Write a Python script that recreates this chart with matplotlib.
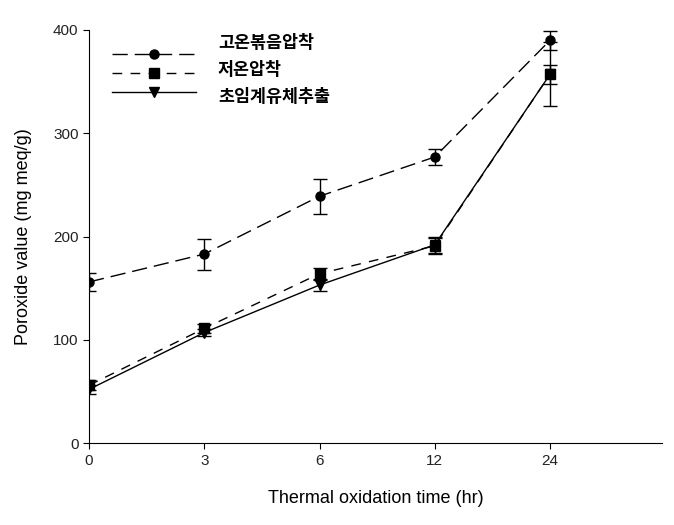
import numpy as np
import matplotlib.pyplot as plt

plt.rcParams['font.family'] = ['Liberation Sans', 'Noto Sans CJK KR', 'DejaVu Sans']

# datos
horas = ['0', '3', '6', '12', '24']
nombres = ['고온볶음압착', '저온압착', '초임계유체추출']
alta = [156, 183, 239, 277, 390]
alta_err = [9, 15, 17, 8, 9]
baja = [56, 111, 164, 191, 357]
baja_err = [5, 4, 6, 8, 31]
scf = [52, 107, 153, 192, 357]
scf_err = [4, 3, 6, 8, 9]

x = np.arange(len(horas))

fig = plt.figure(figsize=(6.74, 5.25), dpi=100)
ax = fig.add_axes([0.132, 0.156, 0.850, 0.787])

series = [(alta, alta_err, 'o', (11, 5)),
          (baja, baja_err, 's', (7, 6)),
          (scf, scf_err, 'v', None)]

lineas = []
for (y, e, m, d), nom in zip(series, nombres):
    ax.errorbar(x, y, yerr=e, fmt='none', ecolor='black', elinewidth=1,
                capsize=5, capthick=1)
    if d is None:
        l, = ax.plot(x, y, color='black', lw=1, marker=m, markersize=6.5)
    else:
        l, = ax.plot(x, y, color='black', lw=1, marker=m, markersize=6.5,
                     dashes=d)
    lineas.append(l)

ax.set_xlim(0, 4.97)
ax.set_ylim(0, 400)
ax.set_xticks(x)
ax.set_xticklabels(horas)
ax.set_yticks([0, 100, 200, 300, 400])
ax.spines['top'].set_visible(False)
ax.spines['right'].set_visible(False)
ax.tick_params(labelsize=11, colors='black', length=4)
for lab in ax.get_yticklabels() + ax.get_xticklabels():
    lab.set_color('#222222')

ax.set_xlabel('Thermal oxidation time (hr)', fontsize=13, labelpad=16)
ax.set_ylabel('Poroxide value (mg meq/g)', fontsize=13, labelpad=15)

# leyenda: simbolos y textos van algo desfasados, como en el original
ax.legend(lineas, [' '] * 3, loc='upper left', bbox_to_anchor=(0.011, 1.0),
          frameon=False, handlelength=4.7, handletextpad=0.5, labelspacing=0.06,
          prop={'family': ['Noto Sans CJK KR'], 'size': 13})
for i, nom in enumerate(nombres):
    fig.text(218 / 674, 1 - (43 + 27 * i) / 525, nom, va='center', ha='left',
             family=['Noto Sans CJK KR'], weight='bold', fontsize=12.5)

fig.savefig('out.png', dpi=100)
